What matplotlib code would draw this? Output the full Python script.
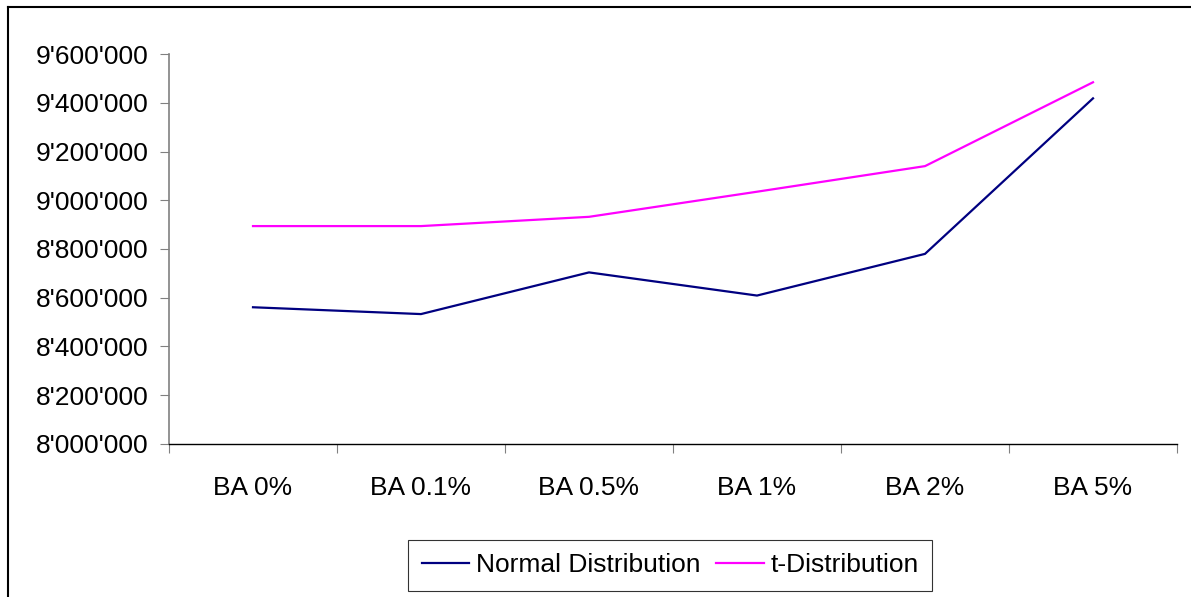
import matplotlib.pyplot as plt
import matplotlib.ticker as mticker
from matplotlib.lines import Line2D

# 数据
categories = ['BA 0%', 'BA 0.1%', 'BA 0.5%', 'BA 1%', 'BA 2%', 'BA 5%']
normal_values = [8561000, 8533000, 8704000, 8609000, 8780000, 9418000]
t_values = [8894000, 8894000, 8932000, 9035000, 9140000, 9484000]

plt.rcParams['font.family'] = ['Liberation Sans', 'DejaVu Sans']
font_size = 19

fig = plt.figure(figsize=(11.91, 5.97), dpi=100)
ax = fig.add_axes([169 / 1191, 1 - 444 / 597, (1177 - 169) / 1191, (444 - 54) / 597])

x = list(range(len(categories)))
ax.plot(x, normal_values, color='#000080', lw=1.6, label='Normal Distribution')
ax.plot(x, t_values, color='#FF00FF', lw=1.6, label='t-Distribution')

ax.set_xlim(-0.5, len(categories) - 0.5)
ax.set_ylim(8000000, 9600000)
ax.yaxis.set_major_locator(mticker.MultipleLocator(200000))
ax.yaxis.set_major_formatter(mticker.FuncFormatter(lambda v, p: format(int(v), ',').replace(',', "'")))

ax.set_xticks(x)
ax.set_xticklabels(categories)
ax.set_xticks([i - 0.5 for i in range(len(categories) + 1)], minor=True)
ax.tick_params(axis='x', which='major', length=0, pad=23, labelsize=font_size)
ax.tick_params(axis='x', which='minor', length=6.5, width=0.8, color='#808080')
ax.tick_params(axis='y', length=6.5, width=0.8, color='#808080', pad=8, labelsize=font_size)

ax.spines['top'].set_visible(False)
ax.spines['right'].set_visible(False)
ax.spines['left'].set_color('#808080')
ax.spines['left'].set_linewidth(1.2)
ax.spines['bottom'].set_color('black')
ax.spines['bottom'].set_linewidth(1.0)

# 外框（只看得到左边和上边）
fig.add_artist(Line2D([8 / 1191, 8 / 1191], [0, 1 - 7 / 597], color='black', lw=1.5))
fig.add_artist(Line2D([8 / 1191, 1], [1 - 7 / 597, 1 - 7 / 597], color='black', lw=1.5))

leg = fig.legend(loc='center', bbox_to_anchor=(670 / 1191, 1 - 565.5 / 597), ncol=2,
                 fontsize=font_size, frameon=True, fancybox=False, shadow=False,
                 handlelength=1.8, handletextpad=0.25, columnspacing=0.6,
                 borderpad=0.5)
leg.get_frame().set_edgecolor('black')
leg.get_frame().set_linewidth(0.8)

plt.savefig('out.png', dpi=100)
